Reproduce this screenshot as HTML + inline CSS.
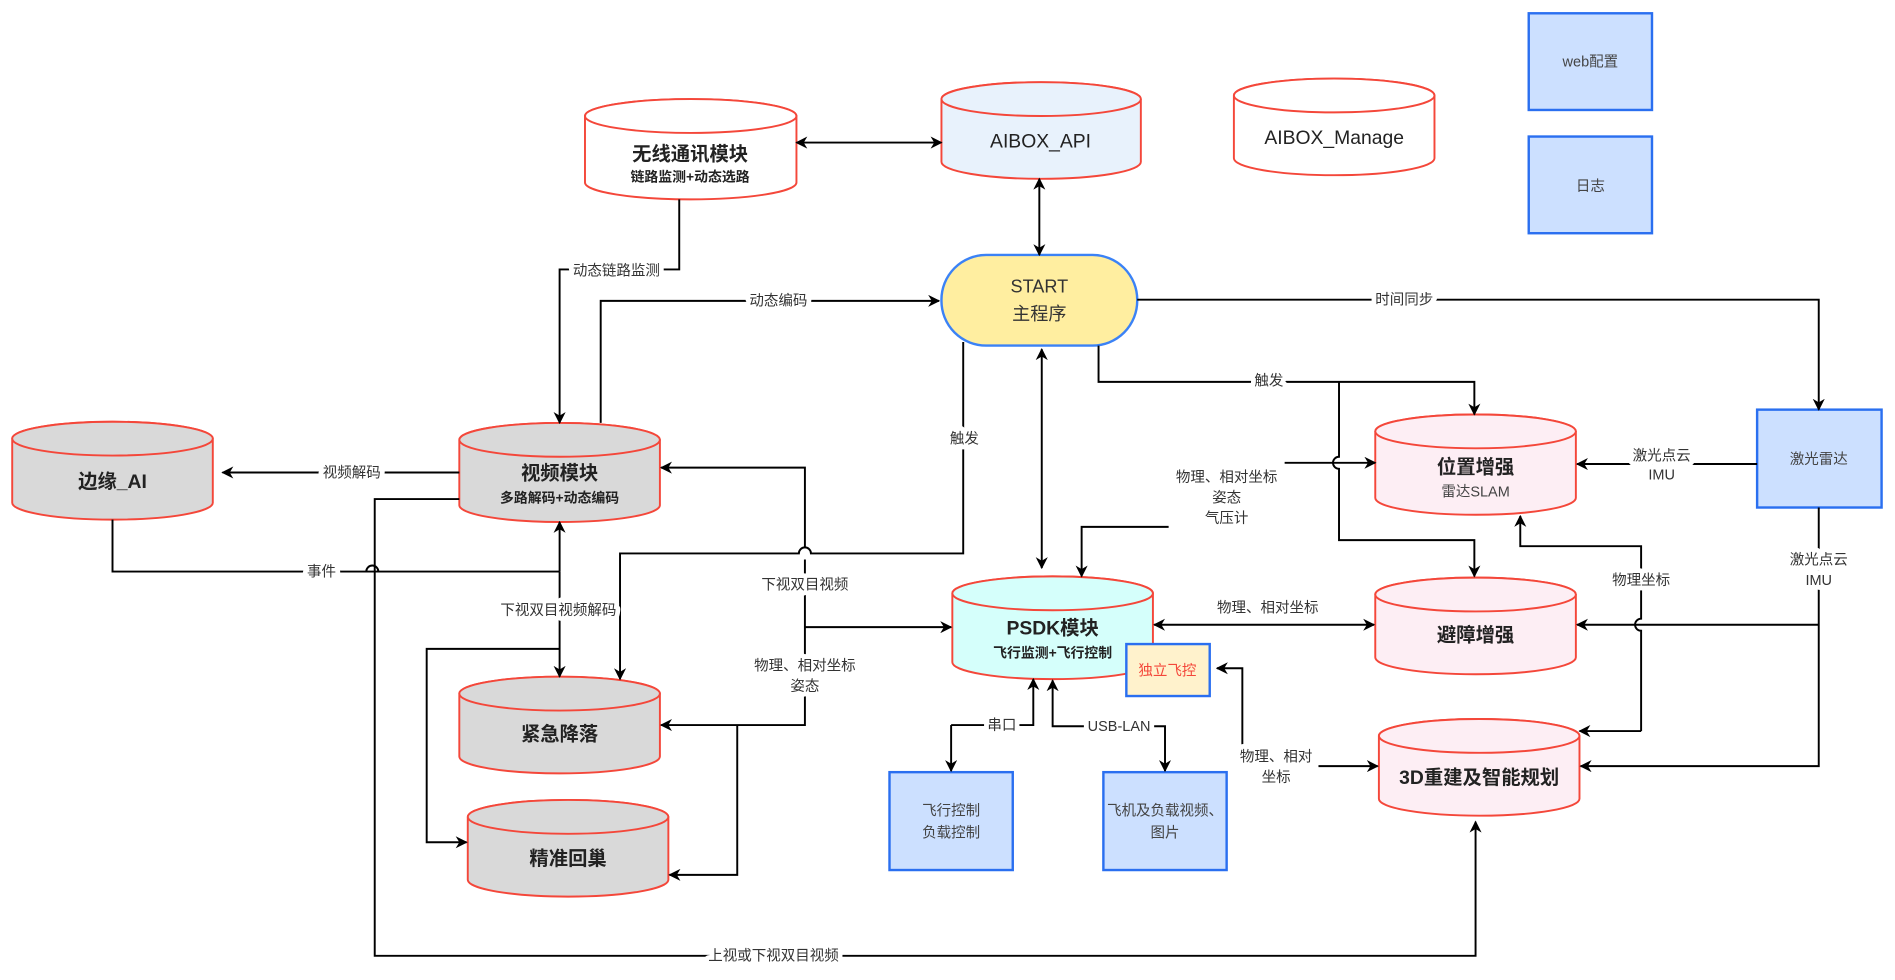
<!DOCTYPE html>
<html><head><meta charset="utf-8"><style>
html,body{margin:0;padding:0;background:#fff;}
svg{display:block;}
text{font-family:"Liberation Sans","Noto Sans CJK SC",sans-serif;}
.l{font-size:12px;fill:#333;text-anchor:middle;paint-order:stroke;stroke:#fff;stroke-width:8px;stroke-linejoin:round;}
.t{font-size:16px;font-weight:bold;fill:#222;text-anchor:middle;}
.s{font-size:11.5px;font-weight:bold;fill:#222;text-anchor:middle;}
.n{font-size:12px;fill:#444;text-anchor:middle;}
.c{stroke:#f4473a;stroke-width:1.6;}
.w{fill:none;stroke:#000;stroke-width:1.6;}
.b{fill:#cce0ff;stroke:#2a6ff0;stroke-width:2;}
</style></head><body>
<svg width="1895" height="980" viewBox="0 0 1568 811" xmlns="http://www.w3.org/2000/svg">
<defs><marker id="a" viewBox="0 0 10 10" refX="9" refY="5" markerWidth="10" markerHeight="10" orient="auto-start-reverse" markerUnits="userSpaceOnUse"><path d="M0,0 L10,5 L0,10 L3,5 Z" fill="#000"/></marker></defs>

<g class="c">
<path d="M484,96 A87.5,14 0 0 1 659,96 V151 A87.5,14 0 0 1 484,151 Z" fill="#fff"/><ellipse cx="571.5" cy="96" rx="87.5" ry="14" fill="#fff"/>
<path d="M779,82 A82.5,14 0 0 1 944,82 V134 A82.5,14 0 0 1 779,134 Z" fill="#e8f2fc"/><ellipse cx="861.5" cy="82" rx="82.5" ry="14" fill="#e8f2fc"/>
<path d="M1021,79 A83,14 0 0 1 1187,79 V131 A83,14 0 0 1 1021,131 Z" fill="#fff"/><ellipse cx="1104" cy="79" rx="83" ry="14" fill="#fff"/>
<path d="M10,363 A83,14 0 0 1 176,363 V416 A83,14 0 0 1 10,416 Z" fill="#d9d9d9"/><ellipse cx="93" cy="363" rx="83" ry="14" fill="#d9d9d9"/>
<path d="M380,364 A83,14 0 0 1 546,364 V418 A83,14 0 0 1 380,418 Z" fill="#d9d9d9"/><ellipse cx="463" cy="364" rx="83" ry="14" fill="#d9d9d9"/>
<path d="M380,574 A83,14 0 0 1 546,574 V626 A83,14 0 0 1 380,626 Z" fill="#d9d9d9"/><ellipse cx="463" cy="574" rx="83" ry="14" fill="#d9d9d9"/>
<path d="M387,676 A83,14 0 0 1 553,676 V728 A83,14 0 0 1 387,728 Z" fill="#d9d9d9"/><ellipse cx="470" cy="676" rx="83" ry="14" fill="#d9d9d9"/>
<path d="M788,491 A83,14 0 0 1 954,491 V548 A83,14 0 0 1 788,548 Z" fill="#d5fffb"/><ellipse cx="871" cy="491" rx="83" ry="14" fill="#d5fffb"/>
<path d="M1138,357 A83,14 0 0 1 1304,357 V412 A83,14 0 0 1 1138,412 Z" fill="#fdeef4"/><ellipse cx="1221" cy="357" rx="83" ry="14" fill="#fdeef4"/>
<path d="M1138,492 A83,14 0 0 1 1304,492 V544 A83,14 0 0 1 1138,544 Z" fill="#fdeef4"/><ellipse cx="1221" cy="492" rx="83" ry="14" fill="#fdeef4"/>
<path d="M1141,609 A83,14 0 0 1 1307,609 V661 A83,14 0 0 1 1141,661 Z" fill="#fdeef4"/><ellipse cx="1224" cy="609" rx="83" ry="14" fill="#fdeef4"/>
</g>
<text class="t" x="571" y="133">无线通讯模块</text><text class="s" x="571" y="150">链路监测+动态选路</text>
<text class="n" x="861" y="122" style="font-size:16px;fill:#222">AIBOX_API</text>
<text class="n" x="1104" y="119" style="font-size:16px;fill:#222">AIBOX_Manage</text>
<text class="t" x="93" y="404">边缘_AI</text>
<text class="t" x="463" y="397">视频模块</text><text class="s" x="463" y="416">多路解码+动态编码</text>
<text class="t" x="463" y="613">紧急降落</text>
<text class="t" x="470" y="716">精准回巢</text>
<text class="t" x="871" y="525">PSDK模块</text><text class="s" x="871" y="544">飞行监测+飞行控制</text>
<text class="t" x="1221" y="392">位置增强</text><text class="n" x="1221" y="411">雷达SLAM</text>
<text class="t" x="1221" y="531">避障增强</text>
<text class="t" x="1224" y="649">3D重建及智能规划</text>

<rect class="b" x="1265" y="11" width="102" height="80"/><text class="n" x="1316" y="55">web配置</text>
<rect class="b" x="1265" y="113" width="102" height="80"/><text class="n" x="1316" y="158">日志</text>
<rect class="b" x="1454" y="339" width="103" height="81"/><text class="n" x="1505" y="384">激光雷达</text>
<rect class="b" x="736" y="639" width="102" height="81"/><text class="n" x="787" y="675">飞行控制</text><text class="n" x="787" y="693">负载控制</text>
<rect class="b" x="913" y="639" width="102" height="81"/><text class="n" x="964" y="675">飞机及负载视频、</text><text class="n" x="964" y="693">图片</text>
<rect x="779" y="211" width="162" height="75" rx="37" fill="#ffeea0" stroke="#3b82f6" stroke-width="2"/>
<text class="n" x="860" y="242" style="font-size:15px;fill:#333">START</text><text class="n" x="860" y="265" style="font-size:15px;fill:#333">主程序</text>
<rect x="932" y="533" width="69" height="43" fill="#fff2cc" stroke="#2a6ff0" stroke-width="2"/><text class="n" x="966" y="559" style="fill:#f4473a">独立飞控</text>

<g class="w">
<path d="M659,118 H779" marker-start="url(#a)" marker-end="url(#a)"/>
<path d="M860,148 V211" marker-start="url(#a)" marker-end="url(#a)"/>
<path d="M562,165 V223 H463 V350" marker-end="url(#a)"/>
<path d="M497,350 V249 H777" marker-end="url(#a)"/>
<path d="M941,248 H1505 V339" marker-end="url(#a)"/>
<path d="M909,286 V316 H1220 V343" marker-end="url(#a)"/>
<path d="M1108,316 V378 a5,5 0 0 0 0,10 V447 H1220 V477" marker-end="url(#a)"/>
<path d="M1063,383 H1138" marker-end="url(#a)"/>
<path d="M967,436 H895 V477" marker-end="url(#a)"/>
<path d="M862,289 V470" marker-start="url(#a)" marker-end="url(#a)"/>
<path d="M797,283 V458 H671 a5,5 0 0 0 -10,0 H513 V562" marker-end="url(#a)"/>
<path d="M380,391 H184" marker-end="url(#a)"/>
<path d="M93,430 V473 H313 a5,5 0 0 0 -10,0 H300 M313,473 H463"/>
<path d="M463,473 V432" marker-end="url(#a)"/>
<path d="M463,473 V560" marker-end="url(#a)"/>
<path d="M666,453 V387 H547" marker-end="url(#a)"/>
<path d="M666,463 V600 H547" marker-end="url(#a)"/>
<path d="M666,519 H787" marker-end="url(#a)"/>
<path d="M463,537 H353 V697 H386" marker-end="url(#a)"/>
<path d="M610,600 V724 H554" marker-end="url(#a)"/>
<path d="M380,413 H310 V791 H1221 V680" marker-end="url(#a)"/>
<path d="M955,517 H1137" marker-start="url(#a)" marker-end="url(#a)"/>
<path d="M1454,384 H1305" marker-end="url(#a)"/>
<path d="M1505,420 V634 H1308" marker-end="url(#a)"/>
<path d="M1505,517 H1305" marker-end="url(#a)"/>
<path d="M1358,605 V522 a5,5 0 0 1 0,-10 V452 H1258 V427" marker-end="url(#a)"/>
<path d="M1358,605 H1307" marker-end="url(#a)"/>
<path d="M1091,634 H1140" marker-end="url(#a)"/>
<path d="M1028,617 V553 H1007" marker-end="url(#a)"/>
<path d="M787,600 H855 V562" marker-end="url(#a)"/>
<path d="M787,600 V638" marker-end="url(#a)"/>
<path d="M871,563 V601 H964 V638" marker-start="url(#a)" marker-end="url(#a)"/>
</g>

<text class="l" x="510" y="228">动态链路监测</text>
<text class="l" x="644" y="253">动态编码</text>
<text class="l" x="1162" y="252">时间同步</text>
<text class="l" x="1050" y="319">触发</text>
<text class="l" x="1015" y="399">物理、相对坐标</text>
<text class="l" x="1015" y="416">姿态</text>
<text class="l" x="1015" y="433">气压计</text>
<text class="l" x="798" y="367">触发</text>
<text class="l" x="291" y="395">视频解码</text>
<text class="l" x="266" y="477">事件</text>
<text class="l" x="462" y="509">下视双目视频解码</text>
<text class="l" x="666" y="488">下视双目视频</text>
<text class="l" x="666" y="555">物理、相对坐标</text>
<text class="l" x="666" y="572">姿态</text>
<text class="l" x="640" y="795">上视或下视双目视频</text>
<text class="l" x="1049" y="507">物理、相对坐标</text>
<text class="l" x="1375" y="381">激光点云</text>
<text class="l" x="1375" y="397">IMU</text>
<text class="l" x="1505" y="467">激光点云</text>
<text class="l" x="1505" y="484">IMU</text>
<text class="l" x="1358" y="484">物理坐标</text>
<text class="l" x="1056" y="630">物理、相对</text>
<text class="l" x="1056" y="647">坐标</text>
<text class="l" x="829" y="604">串口</text>
<text class="l" x="926" y="605">USB-LAN</text>
</svg>
</body></html>
